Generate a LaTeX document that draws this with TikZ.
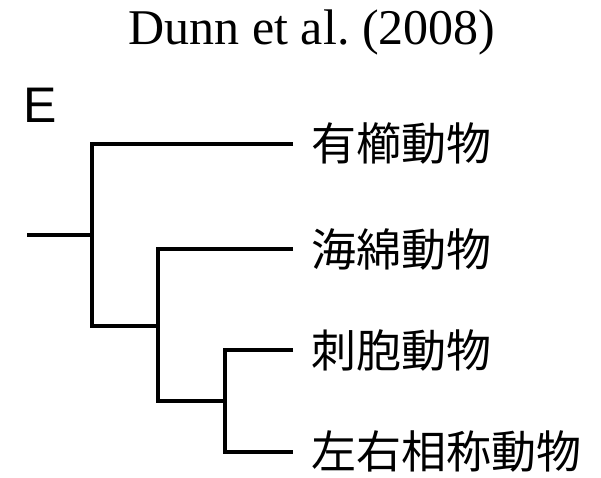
\documentclass[tikz,border=0pt]{standalone}
\usepackage{fontspec}
\setmainfont{Liberation Serif}
\newfontfamily\jpfont{Noto Sans CJK JP}
\newfontfamily\labelfont{Liberation Sans}
\usetikzlibrary{positioning}

\tikzset{
    branch/.style={line width=4.5pt, black},
    leaf/.style={anchor=west, inner xsep=18pt, inner ysep=0pt,
        font=\jpfont\fontsize{45}{50}\selectfont}
}

\begin{document}
\begin{tikzpicture}[x=1pt, y=-1pt]
    \useasboundingbox (0,0) rectangle (601,478);

    % title and panel letter
    \node[anchor=base, inner sep=0pt,
          font=\fontsize{50}{60}\selectfont] (title) at (312,45) {Dunn et al.\ (2008)};
    \node[anchor=base west, inner sep=0pt,
          font=\labelfont\fontsize{50}{60}\selectfont] (panel) at (23,123) {E};

    % taxa
    \node[leaf] (ctenophora) at (293,144) {有櫛動物};
    \node[leaf] (porifera)   at (293,249) {海綿動物};
    \node[leaf] (cnidaria)   at (293,350) {刺胞動物};
    \node[leaf] (bilateria)  at (293,452) {左右相称動物};

    % internal nodes
    \coordinate (root) at (27,235);
    \coordinate (n1) at (92,235);
    \coordinate (n2) at (158,326);
    \coordinate (n3) at (225,401);

    % branches
    \draw[branch] (root) -- (n1);
    \draw[branch] (ctenophora.west) -| (n1) |- (n2);
    \draw[branch] (porifera.west) -| (n2) |- (n3);
    \draw[branch] (cnidaria.west) -| (n3) |- (bilateria.west);
\end{tikzpicture}
\end{document}
